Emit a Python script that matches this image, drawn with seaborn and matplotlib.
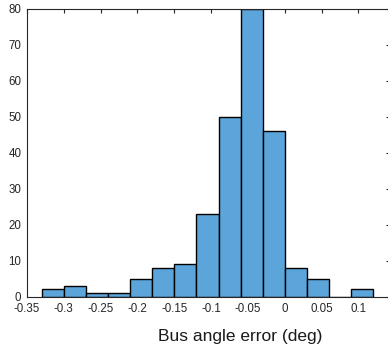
import matplotlib
matplotlib.use("Agg")
import matplotlib.pyplot as plt
import seaborn as sns
import numpy as np

# histogram bins (deg) and counts
bin_edges = [-0.33, -0.30, -0.27, -0.24, -0.21, -0.18, -0.15, -0.12,
             -0.09, -0.06, -0.03, 0.0, 0.03, 0.06, 0.09, 0.12]
counts = [2, 3, 1, 1, 5, 8, 9, 23, 50, 80, 46, 8, 5, 0, 2]
x_ticks = [-0.35, -0.3, -0.25, -0.2, -0.15, -0.1, -0.05, 0, 0.05, 0.1]
x_ticklabels = ["-0.35", "-0.3", "-0.25", "-0.2", "-0.15", "-0.1", "-0.05", "0", "0.05", "0.1"]
y_ticks = [0, 10, 20, 30, 40, 50, 60, 70, 80]

centers = [(a + b) / 2 for a, b in zip(bin_edges[:-1], bin_edges[1:])]

sns.set_theme(style="white")
plt.rcParams["font.family"] = ["Liberation Sans", "DejaVu Sans"]

fig = plt.figure(figsize=(3.88, 3.49), dpi=100)
ax = fig.add_axes([27 / 388, 52.5 / 349, 363 / 388, 288 / 349])

sns.histplot(x=centers, weights=counts, bins=bin_edges, ax=ax,
             color="#5CA5DB", alpha=1.0, edgecolor="black", linewidth=1.0)

ax.set_xlim(-0.35, 0.1428)
ax.set_ylim(0, 80)
ax.set_xticks(x_ticks)
ax.set_xticklabels(x_ticklabels)
ax.set_yticks(y_ticks)
ax.tick_params(direction="in", length=3, width=0.8, colors="#262626",
               labelsize=8.3, top=True, right=True)
ax.tick_params(axis="x", pad=5)
ax.tick_params(axis="y", pad=4)
for s in ax.spines.values():
    s.set_color("#262626")
    s.set_linewidth(0.8)
ax.set_ylabel("")
ax.set_xlabel("")
fig.text(240 / 388, 1 - 337 / 349, "Bus angle error (deg)", ha="center",
         va="center", fontsize=12.5, color="#1a1a1a")

fig.savefig("out.png", dpi=100)
